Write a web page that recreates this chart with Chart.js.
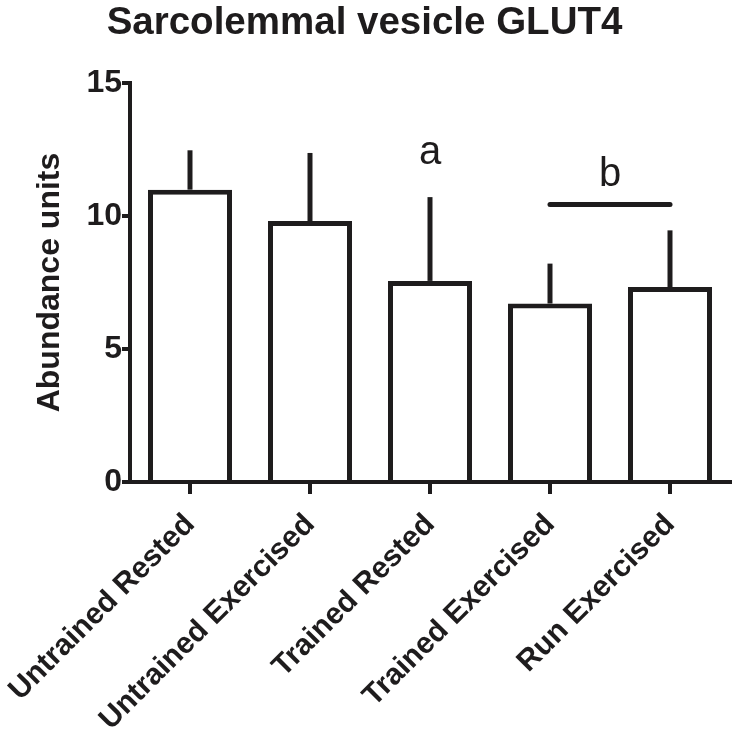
<!DOCTYPE html>
<html>
<head>
<meta charset="utf-8">
<script src="https://cdn.jsdelivr.net/npm/chart.js@4/dist/chart.umd.min.js"></script>
<style>
html,body{margin:0;padding:0;background:#fff;}
canvas{display:block;}
</style>
</head>
<body>
<canvas id="c" width="738" height="733"></canvas>
<script>
// ---- data ----
const categories = ["Untrained Rested", "Untrained Exercised", "Trained Rested", "Trained Exercised", "Run Exercised"];
const means = [10.99, 9.81, 7.56, 6.71, 7.33];
const sem = [1.48, 2.56, 3.15, 1.50, 2.13];
const yTicks = [0, 5, 10, 15];
const titleText = "Sarcolemmal vesicle GLUT4";
const yTitle = "Abundance units";
// significance letters: [label, category index (may be fractional), y value]
const sigLetters = [["a", 2, 12.36], ["b", 3.5, 11.53]];
// significance bars: [from category index, to category index, y value]
const sigBars = [[3, 4, 10.43]];

const INK = "#1e1c1d";
const FAMILY = "'Liberation Sans', Arial, sans-serif";

const errorBarPlugin = {
  id: "errorBars",
  afterDatasetsDraw(chart) {
    const ctx = chart.ctx, xs = chart.scales.x, ys = chart.scales.y;
    ctx.save();
    ctx.strokeStyle = INK;
    ctx.lineWidth = 5;
    ctx.lineCap = "butt";
    means.forEach((m, i) => {
      const x = xs.getPixelForValue(i);
      ctx.beginPath();
      ctx.moveTo(x, ys.getPixelForValue(m));
      ctx.lineTo(x, ys.getPixelForValue(m + sem[i]));
      ctx.stroke();
    });
    // significance bars
    ctx.lineCap = "round";
    sigBars.forEach(([a, b, v]) => {
      const y = ys.getPixelForValue(v);
      ctx.beginPath();
      ctx.moveTo(xs.getPixelForValue(a), y);
      ctx.lineTo(xs.getPixelForValue(b), y);
      ctx.stroke();
    });
    // letters
    ctx.fillStyle = INK;
    ctx.font = "40px " + FAMILY;
    ctx.textAlign = "center";
    ctx.textBaseline = "middle";
    sigLetters.forEach(([t, idx, v]) => {
      const lo = Math.floor(idx), hi = Math.ceil(idx);
      const px = xs.getPixelForValue(lo) + (xs.getPixelForValue(hi) - xs.getPixelForValue(lo)) * (idx - lo);
      ctx.fillText(t, px, ys.getPixelForValue(v));
    });
    // main title
    ctx.font = "bold 38.5px " + FAMILY;
    ctx.textBaseline = "alphabetic";
    ctx.fillText(titleText, 364.5, 34);
    ctx.restore();
  }
};

new Chart(document.getElementById("c"), {
  type: "bar",
  data: {
    labels: categories,
    datasets: [{
      data: means,
      backgroundColor: "#ffffff",
      borderColor: INK,
      borderWidth: 5,
      borderSkipped: "start",
      barPercentage: 0.7,
      categoryPercentage: 1.0
    }]
  },
  options: {
    responsive: false,
    animation: false,
    devicePixelRatio: 1,
    layout: { padding: { top: 83, right: 8, left: 0, bottom: 0 } },
    plugins: { legend: { display: false }, tooltip: { enabled: false }, title: { display: false } },
    scales: {
      x: {
        offset: true,
        grid: { display: true, drawOnChartArea: false, offset: false, tickLength: 12, color: INK, lineWidth: 4 },
        border: { display: true, color: INK, width: 4 },
        ticks: {
          autoSkip: false, minRotation: 45, maxRotation: 45, padding: 13,
          color: INK,
          font: { family: FAMILY, size: 30, weight: "bold" }
        },
        afterFit(s) { s.height = 251; s.paddingLeft = 0; s.paddingRight = 0; }
      },
      y: {
        min: 0, max: 15,
        afterBuildTicks(s) { s.ticks = yTicks.map(v => ({ value: v })); },
        grid: { display: true, drawOnChartArea: false, tickLength: 8, color: INK, lineWidth: 4 },
        border: { display: true, color: INK, width: 4 },
        ticks: {
          padding: 0, color: INK,
          font: { family: FAMILY, size: 32, weight: "bold" }
        },
        title: {
          display: true, text: yTitle, color: INK,
          padding: { top: 31, bottom: 0 },
          font: { family: FAMILY, size: 32, weight: "bold" }
        },
        afterFit(s) { s.width = 130; }
      }
    }
  },
  plugins: [errorBarPlugin]
});
</script>
</body>
</html>
